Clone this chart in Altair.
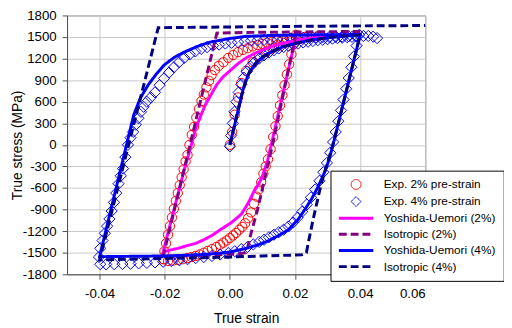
import altair as alt
import pandas as pd

FONT = "Liberation Sans"

names = ["Exp. 2% pre-strain", "Exp. 4% pre-strain", "Yoshida-Uemori (2%)",
         "Isotropic (2%)", "Yoshida-Uemori (4%)", "Isotropic (4%)"]
colors = ["#FF0000", "#0000FF", "#FF00FF", "#800080", "#0000FF", "#000080"]
LINE = "M-3.5,0H3.5"
shapes = ["circle", "diamond", LINE, LINE, LINE, LINE]
dashes = [[1, 0], [1, 0], [1, 0], [8, 4], [1, 0], [8, 4]]
widths = [1, 1, 3, 3, 3, 3]

x_ticks = [-0.04, -0.02, 0.0, 0.02, 0.04, 0.06]
y_ticks = [-1800, -1500, -1200, -900, -600, -300, 0, 300, 600, 900, 1200, 1500, 1800]

# ---- Exp. 2% pre-strain (circles) ----
exp2_x = [0, 0.0007, 0.0015, 0.0025, 0.0035, 0.005, 0.007, 0.009, 0.011, 0.013, 0.015, 0.017, 0.019,
          0.0203, 0.0196, 0.0189, 0.0182, 0.0175, 0.0168, 0.0161, 0.0154, 0.0147, 0.014, 0.0133, 0.0125,
          0.0117, 0.011, 0.0103, 0.0096, 0.0089, 0.0082, 0.0074, 0.0065, 0.0056, 0.0047, 0.0038, 0.0029,
          0.0019, 0.001, 0.0, -0.001, -0.002, -0.003, -0.0042, -0.0055, -0.0068, -0.008, -0.0093, -0.0105,
          -0.0118, -0.013, -0.0145, -0.016, -0.0175, -0.019, -0.0203,
          -0.0205, -0.0201, -0.0196, -0.019, -0.0184, -0.0178, -0.0172, -0.0166, -0.016, -0.0154, -0.0148,
          -0.0142, -0.0136, -0.013, -0.0124, -0.0117, -0.011, -0.0103, -0.0095, -0.0087, -0.008, -0.0072,
          -0.0064, -0.0056, -0.0046, -0.0034, -0.002, -0.0005, 0.001, 0.0025, 0.004, 0.0055, 0.007, 0.0085,
          0.01, 0.0115, 0.013, 0.0145, 0.016, 0.0175, 0.019, 0.021, 0.023, 0.025, 0.027]
exp2_y = [0, 180, 420, 660, 860, 1030, 1150, 1230, 1290, 1340, 1380, 1420, 1450,
          1530, 1400, 1260, 1120, 980, 830, 690, 550, 400, 260, 110, -60,
          -200, -300, -400, -520, -620, -720, -820, -940, -1020, -1090, -1140, -1180,
          -1225, -1260, -1295, -1330, -1360, -1390, -1420, -1450, -1475, -1500, -1525, -1545,
          -1560, -1575, -1590, -1600, -1610, -1615, -1590,
          -1590, -1480, -1370, -1250, -1130, -1010, -890, -780, -670, -560, -450,
          -340, -230, -140, 0, 140, 250, 380, 500, 610, 700, 800,
          890, 970, 1040, 1100, 1150, 1210, 1250, 1290, 1320, 1345, 1370, 1390,
          1405, 1420, 1435, 1450, 1460, 1470, 1480, 1490, 1500, 1505, 1510]

# ---- Exp. 4% pre-strain (diamonds) ----
exp4_x = [0, 0.0004, 0.0009, 0.0014, 0.002, 0.0027, 0.0035, 0.0043, 0.0052, 0.0063, 0.0075, 0.009, 0.0105,
          0.012, 0.0135, 0.015, 0.0165, 0.018, 0.0195, 0.021, 0.0225, 0.024, 0.0255, 0.027, 0.0285, 0.03,
          0.0315, 0.033, 0.0345, 0.036, 0.0375, 0.039, 0.041, 0.0425, 0.044, 0.0452,
          0.0397, 0.0389, 0.0381, 0.0373, 0.0365, 0.0357, 0.0349, 0.0341, 0.0333, 0.0325, 0.0317, 0.0308,
          0.0298, 0.0287, 0.0275, 0.0262, 0.0249, 0.0236, 0.0222, 0.0208, 0.0194, 0.018, 0.0165, 0.015,
          0.0135, 0.012, 0.0105, 0.009, 0.0072, 0.0054, 0.0035, 0.0015, -0.0005, -0.003, -0.0055, -0.008,
          -0.0105, -0.013, -0.0155, -0.018, -0.0205, -0.023, -0.0255, -0.028, -0.0305, -0.033, -0.0355,
          -0.038, -0.0398,
          -0.0402, -0.0398, -0.0391, -0.0384, -0.0377, -0.037, -0.0363, -0.0356, -0.0349, -0.0342, -0.0335,
          -0.0328, -0.0321, -0.0313, -0.0305, -0.0297, -0.0289, -0.0281, -0.0273, -0.0265, -0.0255, -0.0243,
          -0.023, -0.0216, -0.0202, -0.0187, -0.0172, -0.0156, -0.014, -0.0123, -0.0106, -0.0088, -0.007,
          -0.0052, -0.0033, -0.0014, 0.0005, 0.0025, 0.0045, 0.0065, 0.0085, 0.0105, 0.0125, 0.0145, 0.0165,
          0.0185, 0.0205, 0.0225, 0.0245, 0.0265, 0.0285, 0.0305, 0.0325, 0.0345, 0.0365, 0.0385]
exp4_y = [-20, 130, 300, 460, 600, 730, 840, 935, 1020, 1090, 1150, 1200, 1245,
          1285, 1315, 1340, 1360, 1380, 1395, 1410, 1425, 1435, 1445, 1455, 1462, 1470,
          1478, 1485, 1490, 1497, 1503, 1510, 1515, 1515, 1505, 1485,
          1530, 1380, 1230, 1080, 930, 780, 630, 480, 330, 180, 40, -110,
          -250, -380, -500, -620, -730, -830, -930, -1010, -1080, -1135, -1180, -1215,
          -1250, -1285, -1320, -1350, -1385, -1420, -1450, -1480, -1505, -1525, -1545, -1560,
          -1575, -1590, -1605, -1615, -1625, -1635, -1642, -1648, -1653, -1657, -1660,
          -1662, -1660,
          -1560, -1440, -1330, -1230, -1130, -1030, -920, -800, -670, -540, -430,
          -330, -170, 0, 100, 180, 280, 370, 460, 530, 600, 660,
          730, 830, 925, 1005, 1080, 1150, 1210, 1260, 1300, 1335, 1360,
          1380, 1395, 1410, 1420, 1430, 1440, 1447, 1453, 1460, 1465, 1470, 1475,
          1480, 1484, 1488, 1492, 1495, 1498, 1500, 1503, 1506, 1510, 1515]

# ---- Yoshida-Uemori (2%) ----
yu2_x = [0.0203, 0.0165, 0.013, 0.0115, 0.0098, 0.0085, 0.0075, 0.0055, 0.0035, 0.0005, -0.0026, -0.0055,
         -0.008, -0.0105, -0.013, -0.016, -0.019, -0.0205,
         -0.0138, -0.0122, -0.0105, -0.009, -0.0075, -0.006, -0.004, -0.002, 0.0, 0.0025, 0.005, 0.0075,
         0.01, 0.013, 0.016, 0.02, 0.025, 0.03, 0.035]
yu2_y = [1500, 760, 60, -230, -460, -570, -640, -820, -965, -1080, -1170, -1260,
         -1320, -1370, -1400, -1440, -1470, -1490,
         -310, -60, 230, 400, 560, 680, 840, 950, 1030, 1130, 1210, 1270,
         1320, 1370, 1410, 1450, 1490, 1510, 1525]

# ---- Isotropic (2%) ----
iso2_x = [0.0203, 0.0134, 0.0085, 0.0065, 0.0055, 0.0048, 0.003, -0.005, -0.015, -0.0205,
          -0.004, 0.0, 0.01, 0.02, 0.03, 0.04]
iso2_y = [1545, 60, -900, -1230, -1420, -1500, -1515, -1530, -1545, -1555,
          1555, 1560, 1566, 1570, 1574, 1578]

# ---- Yoshida-Uemori (4%) ----
yu4_x = [0, 0.001, 0.002, 0.003, 0.004, 0.005, 0.006, 0.008, 0.01, 0.013, 0.016, 0.02, 0.025, 0.03, 0.035, 0.04,
         0.032, 0.0305, 0.029, 0.027, 0.025, 0.023, 0.021, 0.018, 0.015, 0.012, 0.009, 0.005, 0.0, -0.005,
         -0.01, -0.02, -0.03, -0.04,
         -0.036, -0.032, -0.0295, -0.0275, -0.025, -0.0225, -0.0202, -0.017, -0.014, -0.01, -0.006, 0.0,
         0.005, 0.015, 0.025, 0.04]
yu4_y = [0, 190, 380, 570, 760, 900, 1010, 1140, 1220, 1300, 1360, 1410, 1460, 1490, 1515, 1530,
         60, -200, -390, -590, -760, -900, -1035, -1180, -1260, -1330, -1385, -1440, -1490, -1515,
         -1530, -1545, -1550, -1555,
         -800, -50, 420, 650, 840, 990, 1110, 1220, 1290, 1370, 1430, 1480,
         1510, 1525, 1530, 1535]

# ---- Isotropic (4%) ----
iso4_x = [0, 0.001, 0.002, 0.003, 0.004, 0.005, 0.006, 0.008, 0.01, 0.013, 0.016, 0.02, 0.025, 0.03, 0.035, 0.04,
          0.032, 0.028, 0.0255, 0.024, 0.0235, 0.022, 0.01, 0.0, -0.02, -0.04,
          -0.022, 0.0, 0.02, 0.04, 0.06]
iso4_y = [0, 190, 380, 570, 760, 900, 1010, 1140, 1220, 1300, 1360, 1410, 1460, 1490, 1515, 1530,
          60, -550, -1050, -1380, -1500, -1530, -1545, -1560, -1580, -1600,
          1630, 1640, 1648, 1655, 1660]


def frame(name, xs, ys):
    return pd.DataFrame({"series": name, "x": xs, "y": ys, "idx": list(range(len(xs)))})


pts2 = frame(names[0], exp2_x, exp2_y)
pts4 = frame(names[1], exp4_x, exp4_y)
lines = pd.concat([frame(names[2], yu2_x, yu2_y), frame(names[3], iso2_x, iso2_y),
                   frame(names[4], yu4_x, yu4_y), frame(names[5], iso4_x, iso4_y)],
                  ignore_index=True)

leg = alt.Legend(title=None, orient="none", legendX=267.7, legendY=157.7, direction="vertical",
                 padding=8, rowPadding=3.4, symbolSize=100, symbolOffset=11.5, labelOffset=21.5,
                 labelFontSize=12, labelFont=FONT, labelColor="black", strokeColor="black",
                 fillColor="white", labelLimit=300, cornerRadius=0)

color = alt.Color("series:N", scale=alt.Scale(domain=names, range=colors), legend=leg)
shape = alt.Shape("series:N", scale=alt.Scale(domain=names, range=shapes), legend=leg)
dash = alt.StrokeDash("series:N", scale=alt.Scale(domain=names, range=dashes), legend=leg)
sw = alt.StrokeWidth("series:N", scale=alt.Scale(type="ordinal", domain=names, range=widths), legend=leg)

x_axis = alt.Axis(values=x_ticks, labelExpr="replace(format(datum.value, '.2f'), '\u2212', '-')",
                  title="True strain", titleX=182, titleY=49, titleBaseline="alphabetic",
                  labelPadding=8, tickSize=5)
y_axis = alt.Axis(values=y_ticks, labelExpr="replace(format(datum.value, 'd'), '\u2212', '-')",
                  title="True stress (MPa)", titleX=-50, titleY=131.5, titleAngle=-90,
                  titleBaseline="middle", titleAlign="center", labelPadding=6, tickSize=5)

X = alt.X("x:Q", scale=alt.Scale(domain=[-0.05, 0.06], nice=False, zero=False), axis=x_axis)
Y = alt.Y("y:Q", scale=alt.Scale(domain=[-1800, 1800], nice=False, zero=False), axis=y_axis)

circles = alt.Chart(pts2).mark_point(filled=False, size=90, opacity=1).encode(
    x=X, y=Y, color=color, shape=shape, strokeWidth=sw)
diamonds = alt.Chart(pts4).mark_point(filled=False, size=130, opacity=1).encode(
    x=X, y=Y, color=color, shape=shape, strokeWidth=sw)
curves = alt.Chart(lines).mark_line(strokeCap="butt").encode(
    x=X, y=Y, color=color, strokeDash=dash, strokeWidth=sw, order=alt.Order("idx:Q"))

chart = alt.layer(circles, diamonds, curves).properties(
    width=364, height=263,
    autosize=alt.AutoSizeParams(type="none"),
    padding={"left": 60, "top": 5, "right": 80, "bottom": 52},
).configure_view(stroke="#808080", strokeWidth=1).configure_axis(
    labelFont=FONT, labelFontSize=13.5, labelColor="black",
    titleFont=FONT, titleFontSize=14, titleFontWeight="normal", titleColor="black",
    gridColor="#C8C8C8", gridWidth=1, domainColor="#505050", tickColor="#505050",
)

chart.save("out.html", embed_options={"renderer": "svg", "actions": False})
